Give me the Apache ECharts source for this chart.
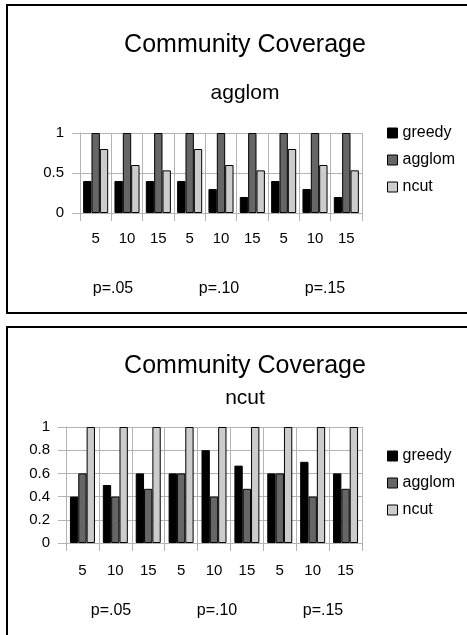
<!DOCTYPE html>
<html>
<head>
<meta charset="utf-8">
<script src="https://cdn.jsdelivr.net/npm/echarts@6/dist/echarts.min.js"></script>
<style>
html,body{margin:0;padding:0;background:#fff;}
#c{width:467px;height:635px;}
</style>
</head>
<body>
<div id="c"></div>
<script>
var categories = ['5','10','15','5','10','15','5','10','15'];
var groupLabels = ['p=.05','p=.10','p=.15'];
var seriesNames = ['greedy','agglom','ncut'];
var titleText = 'Community Coverage';
var subtitle1 = 'agglom';
var subtitle2 = 'ncut';

// Panel 1 (agglom)
var p1Greedy = [0.4,0.4,0.4,0.4,0.3,0.2,0.4,0.3,0.2];
var p1Agglom = [1,1,1,1,1,1,1,1,1];
var p1Ncut   = [0.8,0.6,0.533,0.8,0.6,0.533,0.8,0.6,0.533];

// Panel 2 (ncut)
var p2Greedy = [0.4,0.5,0.6,0.6,0.8,0.667,0.6,0.7,0.6];
var p2Agglom = [0.6,0.4,0.467,0.6,0.4,0.467,0.6,0.4,0.467];
var p2Ncut   = [1,1,1,1,1,1,1,1,1];

var colors = ['#000000','#666666','#cccccc'];
var FONT = 'Liberation Sans, Arial, sans-serif';
var GRID = '#b3b3b3';

var chart = echarts.init(document.getElementById('c'), null, {renderer:'canvas'});

function catAxis(gi, margin){
  return {
    type:'category', gridIndex:gi, data:categories, boundaryGap:true,
    axisLine:{show:true, lineStyle:{color:GRID, width:1}},
    axisTick:{show:true, length:8, inside:false, lineStyle:{color:GRID}},
    splitLine:{show:true, lineStyle:{color:GRID, width:1}},
    axisLabel:{color:'#000', fontFamily:FONT, fontSize:15, margin:margin}
  };
}
function grpAxis(gi, margin){
  return {
    type:'category', gridIndex:gi, data:groupLabels,
    axisLine:{show:false}, axisTick:{show:false}, splitLine:{show:false},
    axisLabel:{color:'#000', fontFamily:FONT, fontSize:16, margin:margin}
  };
}
function valAxis(gi, interval){
  return {
    type:'value', gridIndex:gi, min:0, max:1, interval:interval,
    axisLine:{show:true, lineStyle:{color:GRID}},
    axisTick:{show:true, length:8, lineStyle:{color:GRID}},
    splitLine:{show:true, lineStyle:{color:GRID}},
    axisLabel:{color:'#000', fontFamily:FONT, fontSize:15, margin:16}
  };
}
function hiddenVal(gi){
  return {type:'value', gridIndex:gi, show:false, min:0, max:1};
}
function bar(name, data, idx, xi, yi, gap){
  return {
    type:'bar', name:name, data:data, xAxisIndex:xi, yAxisIndex:yi,
    barGap:'0%', barCategoryGap:gap,
    itemStyle:{color:colors[idx], borderColor:'#000', borderWidth:1},
    emphasis:{disabled:true}, animation:false
  };
}
function legendAt(top){
  return {
    data:seriesNames, orient:'vertical', left:382, top:top,
    itemWidth:10, itemHeight:10, itemGap:11, icon:'rect',
    textStyle:{color:'#000', fontFamily:FONT, fontSize:16, lineHeight:16},
    itemStyle:{borderColor:'#000', borderWidth:1},
    selectedMode:false
  };
}

var option = {
  backgroundColor:'#fff',
  animation:false,
  title:[
    {text:titleText, left:240, top:28, textAlign:'center', textStyle:{fontFamily:FONT, fontSize:25, fontWeight:'normal', color:'#000'}},
    {text:subtitle1, left:240, top:78, textAlign:'center', textStyle:{fontFamily:FONT, fontSize:21, fontWeight:'normal', color:'#000'}},
    {text:titleText, left:240, top:349, textAlign:'center', textStyle:{fontFamily:FONT, fontSize:25, fontWeight:'normal', color:'#000'}},
    {text:subtitle2, left:240, top:383, textAlign:'center', textStyle:{fontFamily:FONT, fontSize:21, fontWeight:'normal', color:'#000'}}
  ],
  legend:[legendAt(120), legendAt(443)],
  grid:[
    {left:80, width:282, top:133, height:80},
    {left:66, width:296, top:427, height:116},
    {left:60, width:318, top:133, height:80},
    {left:58, width:318, top:427, height:116}
  ],
  xAxis:[catAxis(0,18), catAxis(1,20), grpAxis(2,68), grpAxis(3,60)],
  yAxis:[valAxis(0,0.5), valAxis(1,0.2), hiddenVal(2), hiddenVal(3)],
  series:[
    bar(seriesNames[0], p1Greedy, 0, 0, 0, '20%'),
    bar(seriesNames[1], p1Agglom, 1, 0, 0, '20%'),
    bar(seriesNames[2], p1Ncut,   2, 0, 0, '20%'),
    bar(seriesNames[0], p2Greedy, 0, 1, 1, '24%'),
    bar(seriesNames[1], p2Agglom, 1, 1, 1, '24%'),
    bar(seriesNames[2], p2Ncut,   2, 1, 1, '24%')
  ],
  graphic:[
    {type:'rect', shape:{x:7, y:5, width:480, height:308}, style:{fill:null, stroke:'#000', lineWidth:2}, silent:true},
    {type:'rect', shape:{x:7, y:327, width:480, height:400}, style:{fill:null, stroke:'#000', lineWidth:2}, silent:true}
  ]
};
chart.setOption(option);
</script>
</body>
</html>
